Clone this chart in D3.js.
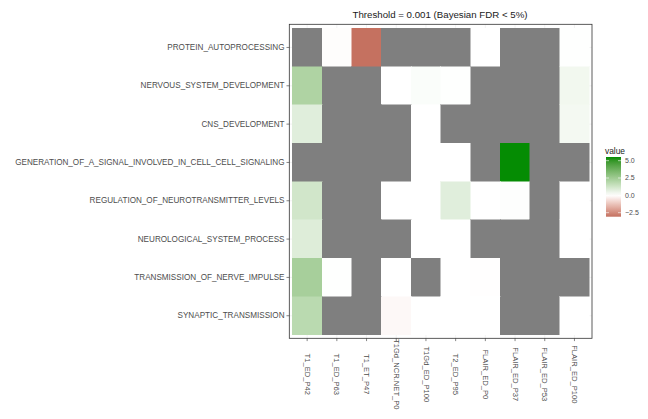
<!DOCTYPE html>
<html>
<head>
<meta charset="utf-8">
<script src="https://cdn.jsdelivr.net/npm/d3@7"></script>
<style>
  body { margin: 0; background: #fff; }
  text { font-family: "Liberation Sans", Arial, sans-serif; }
</style>
</head>
<body>
<div id="root"></div>
<script>
var columns = ["T1_ED_P42", "T1_ED_P63", "T1_ET_P47", "T1Gd_NCR.NET_P0", "T1Gd_ED_P100",
  "T2_ED_P95", "FLAIR_ED_P0", "FLAIR_ED_P37", "FLAIR_ED_P53", "FLAIR_ED_P100"];

var pathways = ["PROTEIN_AUTOPROCESSING", "NERVOUS_SYSTEM_DEVELOPMENT", "CNS_DEVELOPMENT",
  "GENERATION_OF_A_SIGNAL_INVOLVED_IN_CELL_CELL_SIGNALING", "REGULATION_OF_NEUROTRANSMITTER_LEVELS",
  "NEUROLOGICAL_SYSTEM_PROCESS", "TRANSMISSION_OF_NERVE_IMPULSE", "SYNAPTIC_TRANSMISSION"];

// one row per pathway, one value per column, null = not significant
var protein      = [null, -0.05, -3.05, null, null, null, 0.0, null, null, 0.02];
var nervous      = [2.1, null, null, 0.0, 0.12, 0.02, null, null, null, 0.35];
var cns          = [0.8, null, null, null, 0.0, null, null, null, null, 0.3];
var generation   = [null, null, null, null, 0.0, 0.0, null, 5.5, null, null];
var regulation   = [1.2, null, null, 0.0, 0.0, 0.8, 0.0, 0.05, null, 0.0];
var neurological = [0.85, null, null, null, 0.0, 0.0, null, null, null, 0.0];
var transmission = [2.3, 0.02, null, 0.0, null, 0.0, -0.02, null, null, null];
var synaptic     = [1.8, null, null, -0.15, 0.0, 0.0, 0.0, null, null, 0.0];

var legendTicks = [5.0, 2.5, 0.0, -2.5];
var valueRange = [-3.08, 5.53];

var rows = [protein, nervous, cns, generation, regulation, neurological, transmission, synaptic];
var cells = [];
rows.forEach(function(vals, i) {
  vals.forEach(function(v, j) {
    cells.push({ row: pathways[i], col: columns[j], value: v });
  });
});

var W = 648, H = 419;
var panel = { left: 289.3, right: 592, top: 24.3, bottom: 338.3 };

var svg = d3.select("#root").append("svg")
  .attr("width", W).attr("height", H);

var x = d3.scaleBand().domain(columns).range([292.3, 589.3]);
var y = d3.scaleBand().domain(pathways).range([28.3, 334.9]);

var color = d3.scaleLinear()
  .domain([valueRange[0], 0, valueRange[1]])
  .range(["#c4705f", "#ffffff", "#008b00"])
  .interpolate(d3.interpolateLab);

// grid lines
svg.append("g").selectAll("line.gx").data(columns).join("line")
  .attr("x1", function(d) { return x(d) + x.bandwidth() / 2; })
  .attr("x2", function(d) { return x(d) + x.bandwidth() / 2; })
  .attr("y1", panel.top).attr("y2", panel.bottom)
  .attr("stroke", "#ebebeb").attr("stroke-width", 0.6);
svg.append("g").selectAll("line.gy").data(pathways).join("line")
  .attr("y1", function(d) { return y(d) + y.bandwidth() / 2; })
  .attr("y2", function(d) { return y(d) + y.bandwidth() / 2; })
  .attr("x1", panel.left).attr("x2", panel.right)
  .attr("stroke", "#ebebeb").attr("stroke-width", 0.6);

// tiles
svg.append("g").attr("shape-rendering", "crispEdges")
  .selectAll("rect").data(cells).join("rect")
  .attr("x", function(d) { return x(d.col); })
  .attr("y", function(d) { return y(d.row); })
  .attr("width", x.bandwidth())
  .attr("height", y.bandwidth())
  .attr("fill", function(d) { return d.value === null ? "#7f7f7f" : color(d.value); })
  .attr("stroke", function(d) { return d.value === null ? "#7f7f7f" : color(d.value); })
  .attr("stroke-width", 0.5);

// panel border
svg.append("rect")
  .attr("x", panel.left).attr("y", panel.top)
  .attr("width", panel.right - panel.left).attr("height", panel.bottom - panel.top)
  .attr("fill", "none").attr("stroke", "#333333").attr("stroke-width", 0.8);

// y axis
var yAxis = svg.append("g").attr("transform", "translate(" + panel.left + ",0)")
  .call(d3.axisLeft(y).tickSize(2.8).tickPadding(2));
yAxis.select(".domain").remove();
yAxis.selectAll("line").attr("stroke", "#333333").attr("stroke-width", 0.6);
yAxis.selectAll("text").attr("fill", "#4d4d4d").style("font-size", "8.15px")
  .style("font-family", "'Liberation Sans', Arial, sans-serif");

// x axis
var xAxis = svg.append("g").attr("transform", "translate(0," + panel.bottom + ")")
  .call(d3.axisBottom(x).tickSize(2.8).tickPadding(0));
xAxis.select(".domain").remove();
xAxis.selectAll("line").attr("stroke", "#333333").attr("stroke-width", 0.6);
xAxis.selectAll("text")
  .attr("fill", "#4d4d4d").style("font-size", "7.6px")
  .style("font-family", "'Liberation Sans', Arial, sans-serif")
  .attr("text-anchor", "middle")
  .attr("dy", "0.32em")
  .attr("transform", "translate(0,36) rotate(90)")
  .attr("x", 0).attr("y", 0);

// title
svg.append("text")
  .attr("x", 440).attr("y", 18)
  .attr("text-anchor", "middle")
  .attr("fill", "#1a1a1a")
  .style("font-size", "9.7px")
  .text("Threshold = 0.001 (Bayesian FDR < 5%)");

// legend
var barX = 606, barW = 15;
var ly = d3.scaleLinear().domain(valueRange).range([216.7, 157]);

var defs = svg.append("defs");
var grad = defs.append("linearGradient").attr("id", "lg")
  .attr("x1", 0).attr("x2", 0).attr("y1", 1).attr("y2", 0);
d3.range(0, 21).forEach(function(i) {
  var v = valueRange[0] + (valueRange[1] - valueRange[0]) * i / 20;
  grad.append("stop").attr("offset", (i / 20)).attr("stop-color", color(v));
});

svg.append("text").attr("x", 605).attr("y", 154)
  .attr("fill", "#1a1a1a").style("font-size", "8.4px").text("value");

svg.append("rect").attr("x", barX).attr("y", ly(valueRange[1]))
  .attr("width", barW).attr("height", ly(valueRange[0]) - ly(valueRange[1]))
  .attr("fill", "url(#lg)");

var lt = svg.append("g").selectAll("g").data(legendTicks).join("g");
lt.append("line").attr("x1", barX).attr("x2", barX + 3)
  .attr("y1", function(d) { return ly(d); }).attr("y2", function(d) { return ly(d); })
  .attr("stroke", "#fff").attr("stroke-width", 0.6);
lt.append("line").attr("x1", barX + barW - 3).attr("x2", barX + barW)
  .attr("y1", function(d) { return ly(d); }).attr("y2", function(d) { return ly(d); })
  .attr("stroke", "#fff").attr("stroke-width", 0.6);
lt.append("text").attr("x", barX + barW + 4)
  .attr("y", function(d) { return ly(d); })
  .attr("dy", "0.34em")
  .attr("fill", "#4d4d4d").style("font-size", "7px")
  .text(function(d) { return d3.format(".1f")(d).replace("-", "\u2212"); });
</script>
</body>
</html>
